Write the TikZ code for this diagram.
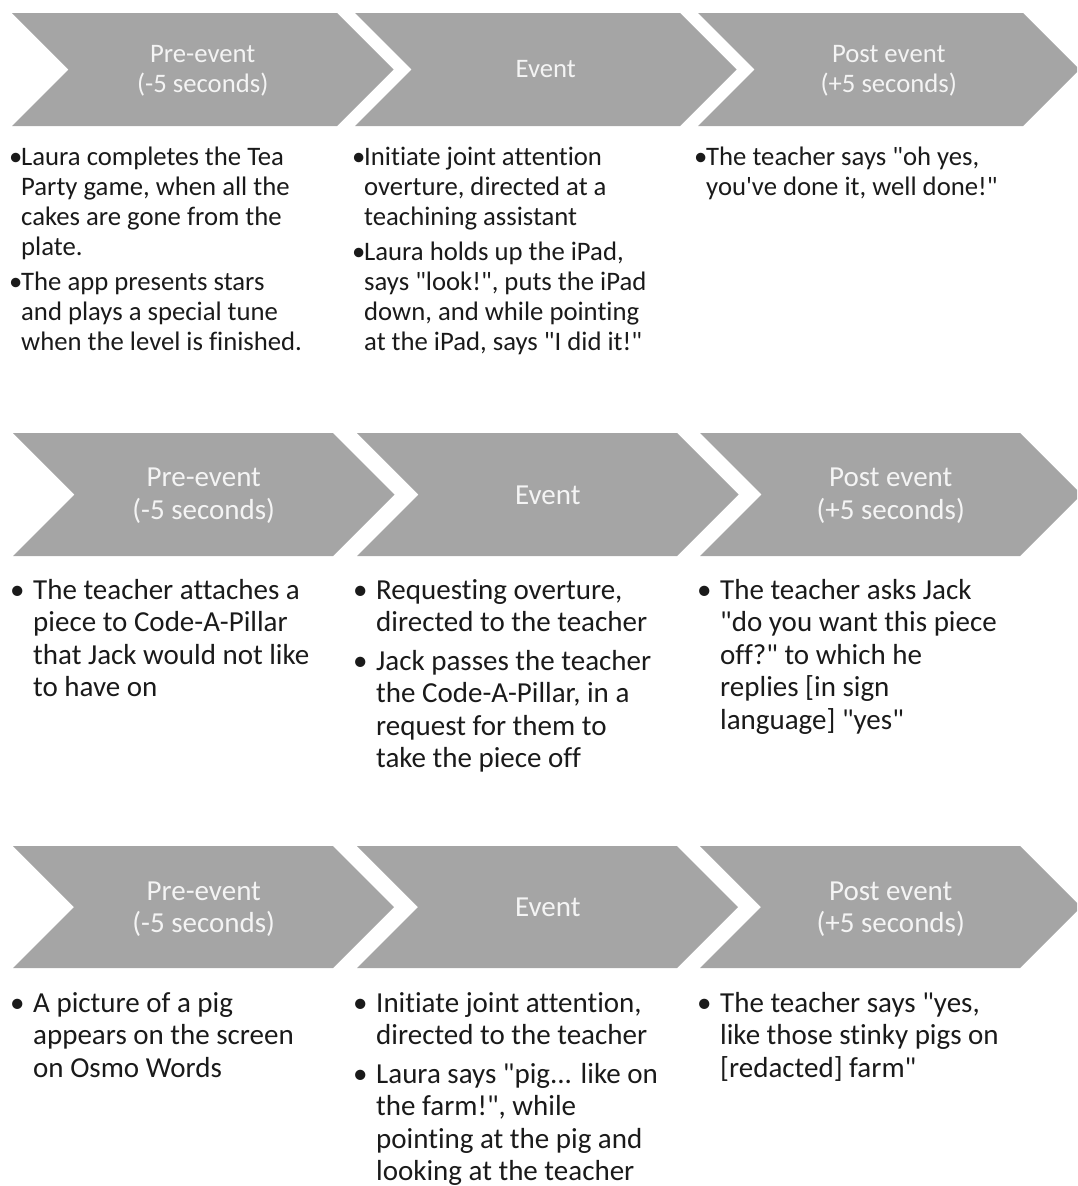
\documentclass[tikz,border=0pt]{standalone}
\usepackage{fontspec}
\newfontfamily\carl{Carlito}[Ligatures={NoCommon}]
\definecolor{chevfill}{HTML}{A5A5A5}
\definecolor{hdrcol}{HTML}{F4F4F4}
\definecolor{bodycol}{HTML}{1A1A1A}
\newcommand{\chevshape}[4]{% left, top, bottom, top width
  \fill[chevfill] (#1,#2) -- ({#1+#4},#2) -- ({#1+#4+(#3-#2)/2},{(#2+#3)/2})
    -- ({#1+#4},#3) -- (#1,#3) -- ({#1+(#3-#2)/2},{(#2+#3)/2}) -- cycle;}
\newcommand{\bitem}[2]{\hangindent=#1\hangafter=1\noindent\makebox[#1][l]{•}#2\par}
\tikzset{
  hdr/.style={anchor=base, inner sep=0pt, text=hdrcol},
  bodytxt/.style={anchor=base west, inner sep=0pt, text=bodycol},
}
\newcommand{\hA}{\carl\fontsize{26.7}{30}\selectfont}
\newcommand{\hB}{\carl\fontsize{29}{32.5}\selectfont}
\begin{document}
\begin{tikzpicture}[x=1pt,y=-1pt]
\useasboundingbox (0,0) rectangle (1077,1186);
\clip (0,0) rectangle (1077,1186);
% ---------- row 1 chevrons
\chevshape{12}{13}{126}{325}
\chevshape{355}{13}{126}{325}
\chevshape{698}{13}{126}{325}
% ---------- row 2 chevrons
\chevshape{13}{433}{556}{320}
\chevshape{357}{433}{556}{320}
\chevshape{700}{433}{556}{320}
% ---------- row 3 chevrons
\chevshape{13}{846}{968}{320}
\chevshape{357}{846}{968}{320}
\chevshape{700}{846}{968}{320}
% ---------- headers row 1
\node[hdr] (h11) at (202.75,62) {\parbox[t]{260pt}{\centering\hA Pre-event\\(-5 seconds)}};
\node[hdr] (h12) at (545.75,77) {\parbox[t]{260pt}{\centering\hA Event}};
\node[hdr] (h13) at (888.75,62) {\parbox[t]{260pt}{\centering\hA Post event\\(+5 seconds)}};
% ---------- headers row 2
\node[hdr] (h21) at (203.75,486.7) {\parbox[t]{260pt}{\centering\hB Pre-event\\(-5 seconds)}};
\node[hdr] (h22) at (547.75,504) {\parbox[t]{260pt}{\centering\hB Event}};
\node[hdr] (h23) at (890.75,486.7) {\parbox[t]{260pt}{\centering\hB Post event\\(+5 seconds)}};
% ---------- headers row 3
\node[hdr] (h31) at (203.75,900) {\parbox[t]{260pt}{\centering\hB Pre-event\\(-5 seconds)}};
\node[hdr] (h32) at (547.75,916.5) {\parbox[t]{260pt}{\centering\hB Event}};
\node[hdr] (h33) at (890.75,900) {\parbox[t]{260pt}{\centering\hB Post event\\(+5 seconds)}};
% ---------- body row 1
\node[bodytxt] (b11) at (9,165) {\parbox[t]{330pt}{\hA
  \bitem{12pt}{Laura completes the Tea\\Party game, when all the\\cakes are gone from the\\plate.}\vspace{5pt}
  \bitem{12pt}{The app presents stars\\and plays a special tune\\when the level is finished.}}};
\node[bodytxt] (b12) at (352,165) {\parbox[t]{330pt}{\hA
  \bitem{12pt}{Initiate joint attention\\overture, directed at a\\teachining assistant}\vspace{5pt}
  \bitem{12pt}{Laura holds up the iPad,\\says "look!", puts the iPad\\down, and while pointing\\at the iPad, says "I did it!"}}};
\node[bodytxt] (b13) at (694,165) {\parbox[t]{330pt}{\hA
  \bitem{12pt}{The teacher says "oh yes,\\you've done it, well done!"}}};
% ---------- body row 2
\node[bodytxt] (b21) at (10,599) {\parbox[t]{330pt}{\hB
  \bitem{23pt}{The teacher attaches a\\piece to Code-A-Pillar\\that Jack would not like\\to have on}}};
\node[bodytxt] (b22) at (353,599) {\parbox[t]{330pt}{\hB
  \bitem{23pt}{Requesting overture,\\directed to the teacher}\vspace{6pt}
  \bitem{23pt}{Jack passes the teacher\\the Code-A-Pillar, in a\\request for them to\\take the piece off}}};
\node[bodytxt] (b23) at (697,599) {\parbox[t]{330pt}{\hB
  \bitem{23pt}{The teacher asks Jack\\"do you want this piece\\off?" to which he\\replies {[in} sign\\language] "yes"}}};
% ---------- body row 3
\node[bodytxt] (b31) at (10,1012) {\parbox[t]{330pt}{\hB
  \bitem{23pt}{A picture of a pig\\appears on the screen\\on Osmo Words}}};
\node[bodytxt] (b32) at (353,1012) {\parbox[t]{330pt}{\hB
  \bitem{23pt}{Initiate joint attention,\\directed to the teacher}\vspace{6pt}
  \bitem{23pt}{Laura says "pig... like on\\the farm!", while\\pointing at the pig and\\looking at the teacher}}};
\node[bodytxt] (b33) at (697,1012) {\parbox[t]{330pt}{\hB
  \bitem{23pt}{The teacher says "yes,\\like those stinky pigs on\\{}[redacted] farm"}}};
\end{tikzpicture}
\end{document}
